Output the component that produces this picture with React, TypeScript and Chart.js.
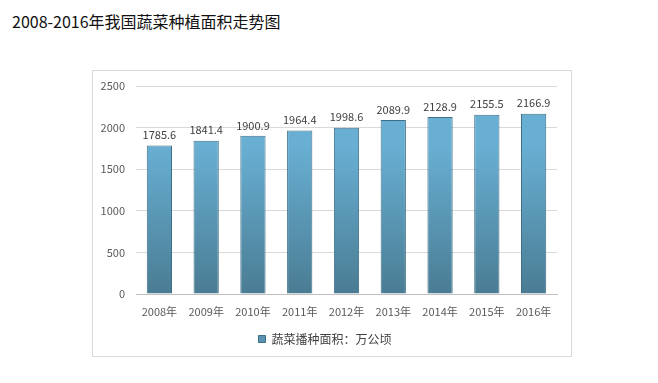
import React, { useEffect, useRef } from "react";
import { Chart, registerables } from "chart.js";

Chart.register(...registerables);

const categories = ["2008年", "2009年", "2010年", "2011年", "2012年", "2013年", "2014年", "2015年", "2016年"];
const seriesName = "蔬菜播种面积：万公顷";
const values = [1785.6, 1841.4, 1900.9, 1964.4, 1998.6, 2089.9, 2128.9, 2155.5, 2166.9];
const yTicks = [0, 500, 1000, 1500, 2000, 2500];

const FONT = '"Noto Sans CJK SC", "Microsoft YaHei", sans-serif';

const valueLabels = {
  id: "valueLabels",
  afterDatasetsDraw(chart: any) {
    const ctx = chart.ctx;
    const meta = chart.getDatasetMeta(0);
    ctx.save();
    ctx.font = `11px ${FONT}`;
    ctx.fillStyle = "#404040";
    ctx.textAlign = "center";
    ctx.textBaseline = "bottom";
    meta.data.forEach((bar: any, i: number) => {
      ctx.fillText(values[i].toFixed(1), bar.x, bar.y - 5);
    });
    ctx.restore();
  },
};

export default function App() {
  const ref = useRef<HTMLCanvasElement>(null);
  useEffect(() => {
    document.body.style.margin = "0";
    const chart = new Chart(ref.current!, {
      type: "bar",
      data: {
        labels: categories,
        datasets: [
          {
            label: seriesName,
            data: values,
            backgroundColor: (c: any) => {
              const area = c.chart.chartArea;
              if (!area) return "#5b9bbd";
              const g = c.chart.ctx.createLinearGradient(0, area.top + 60, 0, area.bottom);
              g.addColorStop(0, "#68afd3");
              g.addColorStop(1, "#4a7c93");
              return g;
            },
            borderColor: "#3d6f87",
            borderWidth: 1,
            barPercentage: 0.54,
            categoryPercentage: 1,
          },
        ],
      },
      options: {
        animation: false,
        responsive: false,
        layout: { padding: { left: 0, right: 14, top: 15, bottom: 1 } },
        plugins: {
          tooltip: { enabled: false },
          legend: {
            position: "bottom",
            labels: {
              font: { family: FONT, size: 12 },
              color: "#404040",
              boxWidth: 7,
              boxHeight: 7,
              padding: 10,
              generateLabels: () => [
                {
                  text: seriesName,
                  fillStyle: "#5b94b0",
                  strokeStyle: "#3d6f87",
                  lineWidth: 1,
                  fontColor: "#404040",
                  datasetIndex: 0,
                } as any,
              ],
            },
          },
        },
        scales: {
          x: {
            grid: { display: false, drawTicks: false },
            border: { color: "#bfbfbf" },
            ticks: { font: { family: FONT, size: 11 }, color: "#595959", padding: 11 },
            afterFit: (s: any) => {
              s.height = 29;
            },
          },
          y: {
            min: 0,
            max: 2500,
            afterBuildTicks: (s: any) => {
              s.ticks = yTicks.map((v) => ({ value: v }));
            },
            grid: { color: "#d9d9d9", drawTicks: false },
            border: { display: false },
            ticks: {
              font: { family: FONT, size: 11 },
              color: "#595959",
              padding: 11,
              callback: (v: any) => String(v),
            },
            afterFit: (s: any) => {
              s.width = 43;
              s.paddingTop = 0;
            },
          },
        },
      },
      plugins: [valueLabels],
    });
    return () => chart.destroy();
  }, []);

  return (
    <div style={{ position: "relative", width: 658, height: 383, background: "#fff" }}>
      <div
        style={{
          position: "absolute",
          left: 12,
          top: 10,
          fontFamily: FONT,
          fontSize: 16,
          color: "#111",
          lineHeight: "22px",
          whiteSpace: "nowrap",
        }}
      >
        2008-2016年我国蔬菜种植面积走势图
      </div>
      <div
        style={{
          position: "absolute",
          left: 92,
          top: 70,
          width: 478,
          height: 285,
          border: "1px solid #d9d9d9",
        }}
      >
        <canvas ref={ref} width={478} height={285} style={{ display: "block" }} />
      </div>
    </div>
  );
}
